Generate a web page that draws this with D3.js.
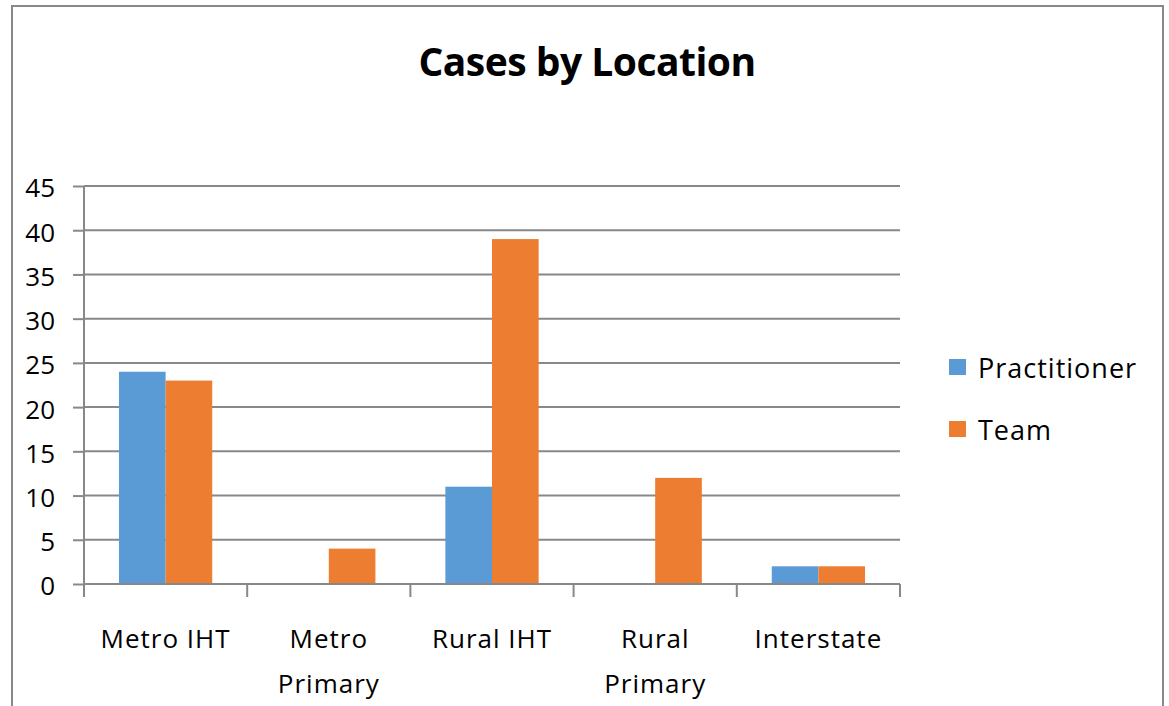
<!DOCTYPE html>
<meta charset="utf-8">
<style>
    body { margin: 0; background: #fff; }
    .container { width: 1169px; height: 706px; }
    text { font-family: "Open Sans", "Noto Sans", sans-serif; fill: #000; }
</style>
<body>
<div class="container"></div>
<script src="https://cdn.jsdelivr.net/npm/d3@7"></script>
<script>

// chart data
const categories = [['Metro IHT'], ['Metro', 'Primary'], ['Rural IHT'], ['Rural', 'Primary'], ['Interstate']];
const seriesNames = ['Practitioner', 'Team'];
const practitioner = [24, 0, 11, 0, 2];
const team = [23, 4, 39, 12, 2];
const yTicks = [0, 5, 10, 15, 20, 25, 30, 35, 40, 45];
const colors = ['#5b9bd5', '#ed7d31'];

const width = 1169, height = 706;
const plot = { left: 84, right: 900, top: 186, bottom: 584 };

const svg = d3.select('.container')
    .append('svg')
    .attr('width', width)
    .attr('height', height);

// chart border
svg.append('rect')
    .attr('x', 12).attr('y', 6)
    .attr('width', 1151).attr('height', 720)
    .attr('fill', 'none')
    .attr('stroke', '#888')
    .attr('stroke-width', 2);

svg.append('text')
    .attr('x', 587).attr('y', 76)
    .attr('text-anchor', 'middle')
    .style('font-size', '39px')
    .style('font-weight', 'bold')
    .style('letter-spacing', '-0.5px')
    .text('Cases by Location');

const keys = categories.map(c => c.join(' '));

const x = d3.scaleBand()
    .domain(keys)
    .range([plot.left, plot.right]);

// 150% gap width like the spreadsheet
const bw = x.bandwidth() / (2 + 1.5);
const x1 = d3.scaleBand()
    .domain(seriesNames)
    .range([bw * 0.75, bw * 0.75 + 2 * bw]);

const y = d3.scaleLinear()
    .domain([0, 45])
    .range([plot.bottom, plot.top]);

// gridlines + y axis labels
const yAxis = svg.append('g')
    .attr('transform', `translate(${plot.left},0)`)
    .call(d3.axisLeft(y).tickValues(yTicks).tickSize(11).tickPadding(18).tickFormat(d3.format('d')));
yAxis.select('.domain').remove();
yAxis.selectAll('.tick line').attr('stroke', '#888').attr('stroke-width', 2);
yAxis.selectAll('.tick text').style('font-size', '26px').attr('dy', '0.42em');

svg.append('g').selectAll('line')
    .data(yTicks.filter(d => d > 0))
    .enter().append('line')
    .attr('x1', plot.left).attr('x2', plot.right)
    .attr('y1', d => y(d)).attr('y2', d => y(d))
    .attr('stroke', '#888')
    .attr('stroke-width', 2);

// y axis line
svg.append('line')
    .attr('x1', plot.left).attr('x2', plot.left)
    .attr('y1', plot.top).attr('y2', plot.bottom)
    .attr('stroke', '#888').attr('stroke-width', 2);

// bars
const rows = keys.map((k, i) => ({ key: k, values: [practitioner[i], team[i]] }));
const groups = svg.append('g').selectAll('g')
    .data(rows)
    .enter().append('g')
    .attr('transform', d => `translate(${x(d.key)},0)`);

groups.selectAll('rect')
    .data(d => d.values.map((v, j) => ({ s: seriesNames[j], v: v, j: j })))
    .enter().append('rect')
    .attr('x', d => x1(d.s))
    .attr('width', x1.bandwidth())
    .attr('y', d => y(d.v))
    .attr('height', d => y(0) - y(d.v))
    .attr('fill', d => colors[d.j]);

// x axis with category ticks
const xAxis = svg.append('g')
    .attr('transform', `translate(0,${plot.bottom})`);
xAxis.append('line')
    .attr('x1', plot.left).attr('x2', plot.right)
    .attr('stroke', '#888').attr('stroke-width', 2);
const bounds = keys.map(k => x(k)).concat([plot.right]);
xAxis.selectAll('line.tk')
    .data(bounds)
    .enter().append('line')
    .attr('class', 'tk')
    .attr('x1', d => d).attr('x2', d => d)
    .attr('y1', 0).attr('y2', 13)
    .attr('stroke', '#888').attr('stroke-width', 2);

const labels = xAxis.selectAll('text.cat')
    .data(categories)
    .enter().append('text')
    .attr('class', 'cat')
    .attr('text-anchor', 'middle')
    .attr('transform', (d, i) => `translate(${x(keys[i]) + x.bandwidth() / 2},64)`)
    .style('font-size', '26px')
    .style('letter-spacing', '1px');
labels.selectAll('tspan')
    .data(d => d)
    .enter().append('tspan')
    .attr('x', 0)
    .attr('y', (d, i) => i * 45)
    .text(d => d);

// legend
const legend = svg.append('g').selectAll('g')
    .data(seriesNames)
    .enter().append('g')
    .attr('transform', (d, i) => `translate(949,${359 + i * 62})`);
legend.append('rect')
    .attr('width', 17).attr('height', 16)
    .attr('fill', (d, i) => colors[i]);
legend.append('text')
    .attr('x', 29).attr('y', 19)
    .style('font-size', '27px')
    .style('letter-spacing', '1px')
    .text(d => d);

</script>
</body>
